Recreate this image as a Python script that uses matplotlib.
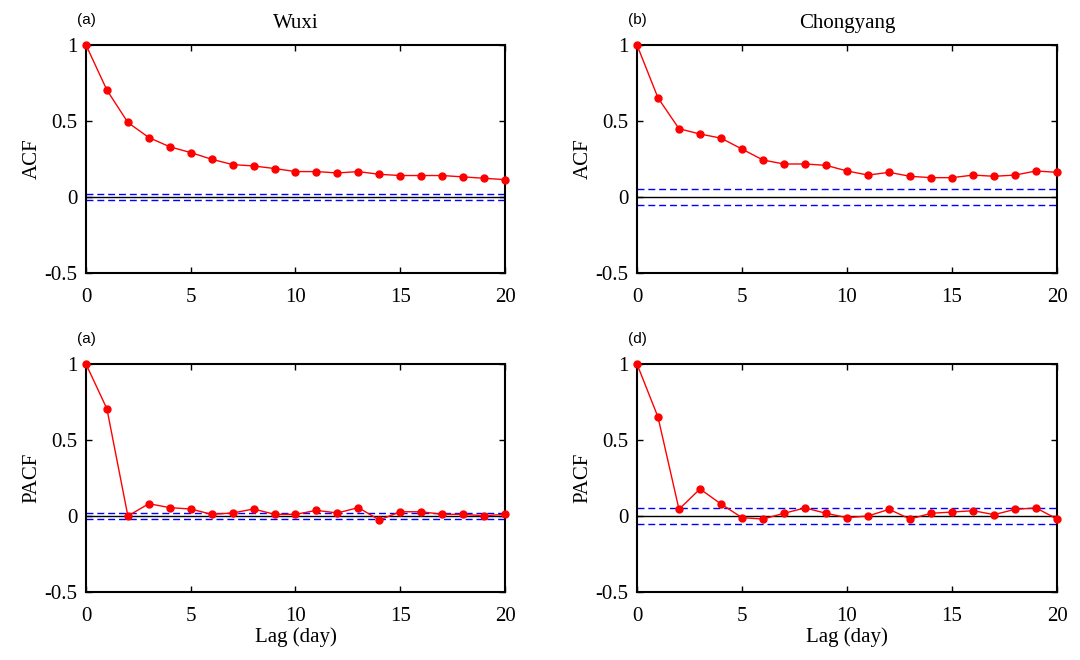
import numpy as np
import matplotlib.pyplot as plt

lags = list(range(21))

acf_wuxi = [1.0, 0.703, 0.49, 0.391, 0.33, 0.292, 0.248, 0.213, 0.204, 0.187, 0.167,
            0.167, 0.158, 0.167, 0.149, 0.141, 0.141, 0.141, 0.132, 0.123, 0.114]
acf_chong = [1.0, 0.652, 0.449, 0.414, 0.387, 0.315, 0.243, 0.217, 0.217, 0.208, 0.171,
             0.144, 0.162, 0.136, 0.127, 0.127, 0.144, 0.136, 0.144, 0.171, 0.162]
pacf_wuxi = [1.0, 0.705, 0.0, 0.081, 0.055, 0.046, 0.011, 0.02, 0.046, 0.011, 0.011,
             0.037, 0.02, 0.055, -0.026, 0.028, 0.028, 0.011, 0.011, 0.002, 0.011]
pacf_chong = [1.0, 0.651, 0.044, 0.178, 0.079, -0.011, -0.02, 0.018, 0.053, 0.018, -0.011,
              0.0, 0.044, -0.02, 0.018, 0.026, 0.035, 0.009, 0.044, 0.053, -0.02]

bound_wuxi = 0.022
bound_chong = 0.051

panels = [
    # (values, bound, tag, title, ylabel, position)
    (acf_wuxi, bound_wuxi, '(a)', 'Wuxi', 'ACF', [0.0796, 0.5864, 0.388, 0.3455]),
    (acf_chong, bound_chong, '(b)', 'Chongyang', 'ACF', [0.5898, 0.5864, 0.389, 0.3455]),
    (pacf_wuxi, bound_wuxi, '(a)', None, 'PACF', [0.0796, 0.103, 0.388, 0.3455]),
    (pacf_chong, bound_chong, '(d)', None, 'PACF', [0.5898, 0.103, 0.389, 0.3455]),
]

serif = ['Liberation Serif', 'DejaVu Serif']
sans = ['Liberation Sans', 'DejaVu Sans']

fig = plt.figure(figsize=(10.8, 6.6), dpi=100)

for values, bound, tag, title, ylab, pos in panels:
    ax = fig.add_axes(pos)
    ax.axhline(0, color='black', lw=1, zorder=1)
    ax.axhline(bound, color='blue', lw=1, ls=(0, (5, 2.8)), zorder=1)
    ax.axhline(-bound, color='blue', lw=1, ls=(0, (5, 2.8)), zorder=1)
    ax.plot(lags, values, color='red', lw=1, marker='o', markersize=5,
            clip_on=False, zorder=3)
    ax.set_xlim(0, 20)
    ax.set_ylim(-0.5, 1)
    ax.set_xticks([0, 5, 10, 15, 20])
    ax.set_yticks([-0.5, 0, 0.5, 1])
    ax.set_yticklabels(['-0.5', '0', '0.5', '1'])
    ax.tick_params(direction='in', top=True, right=True, length=4, width=1,
                   labelsize=15)
    ax.tick_params(axis='x', pad=11)
    ax.tick_params(axis='y', pad=6)
    for lbl in ax.get_xticklabels() + ax.get_yticklabels():
        lbl.set_family(serif)
    for sp in ax.spines.values():
        sp.set_linewidth(1.5)
    ax.set_ylabel(ylab, family=serif, fontsize=15, labelpad=2)
    if title:
        ax.set_title(title, family=serif, fontsize=15, pad=12)
    else:
        ax.set_xlabel('Lag (day)', family=serif, fontsize=15, labelpad=1)
    ax.text(-0.022, 1.11, tag, transform=ax.transAxes, family=sans,
            fontsize=11, ha='left', va='center')

fig.savefig('out.png', dpi=100)
